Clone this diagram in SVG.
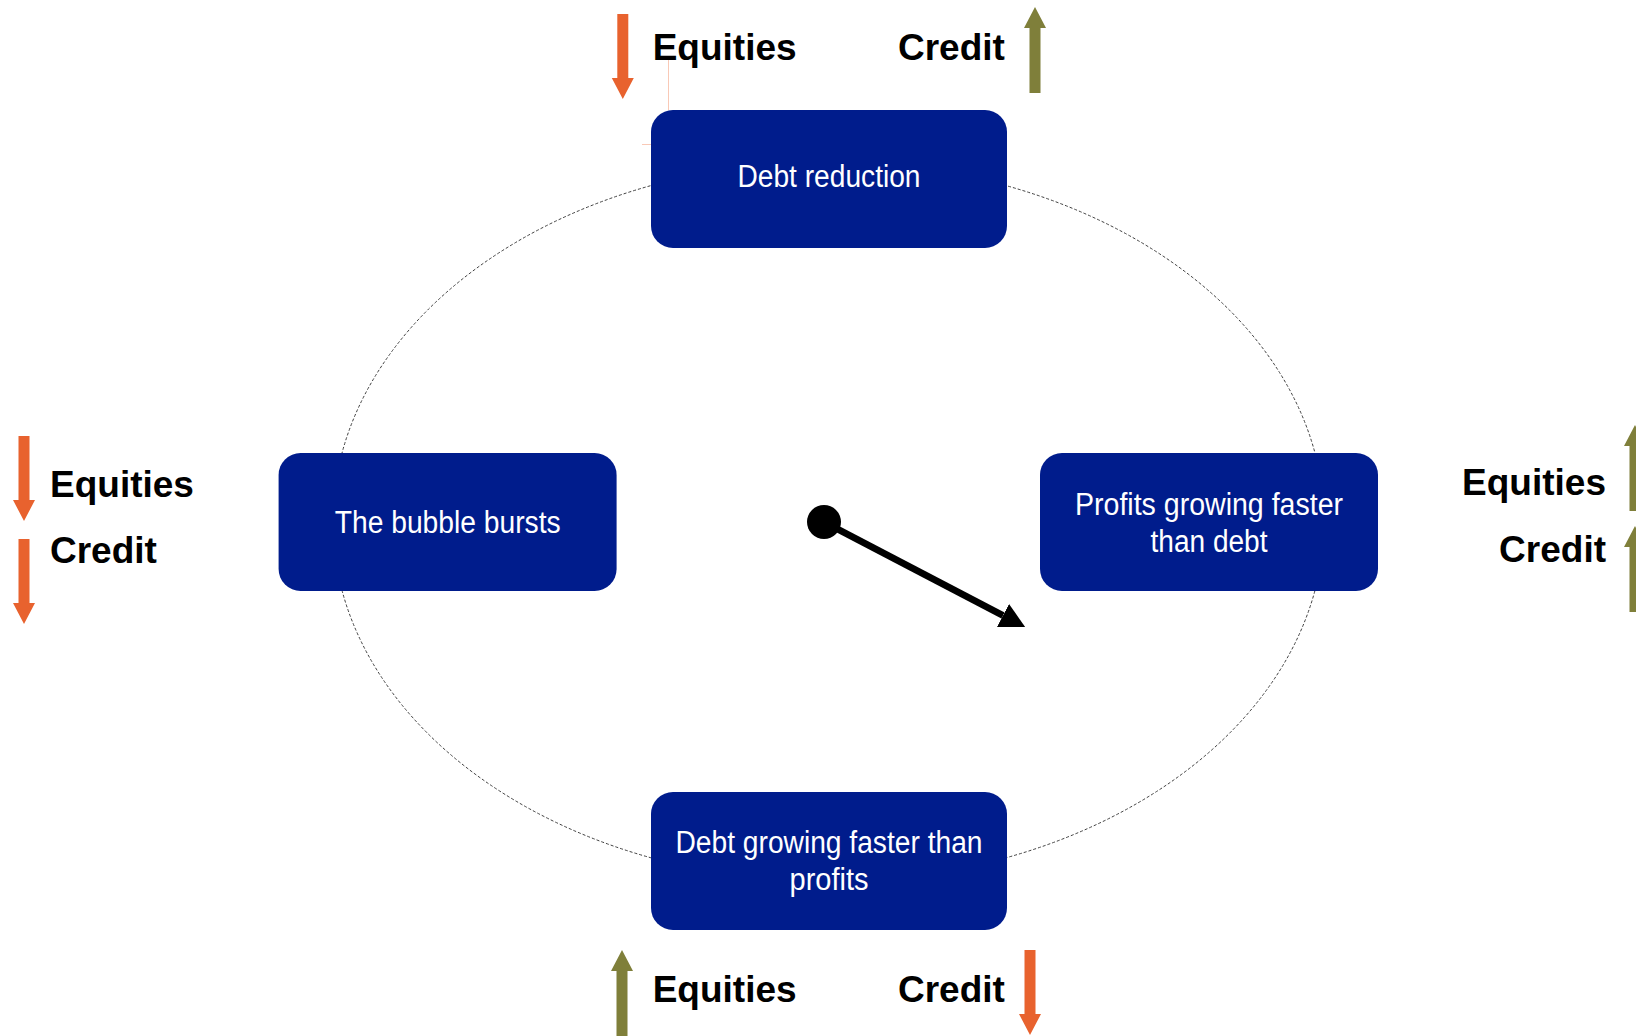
<svg xmlns="http://www.w3.org/2000/svg" xmlns:xlink="http://www.w3.org/1999/xlink" width="1636" height="1036" viewBox="0 0 1636 1036">
<style>
.node rect{fill:#001C8C;}
.ntext{font-family:"Liberation Sans",Arial,sans-serif;font-size:31px;fill:#ffffff;text-anchor:middle;}
.lbl{font-family:"Liberation Sans",Arial,sans-serif;font-size:37px;font-weight:bold;fill:#000000;}
.dn{fill:#E8622E;}
.upa{fill:#7F7F3A;}
.cycle{fill:none;stroke:#404040;stroke-width:1;stroke-dasharray:3 2;}
.faint{stroke:#F9C9B6;stroke-width:1;fill:none;}
</style>
<defs>
<path id="down" d="M-5.5,0 H5.5 V64 H11 L0,85 L-11,64 H-5.5 Z"/>
<path id="up" d="M-5.5,86 H5.5 V21 H11 L0,0 L-11,21 H-5.5 Z"/>
<marker id="head" markerUnits="userSpaceOnUse" markerWidth="26" markerHeight="28" refX="0" refY="13" orient="auto">
<path d="M0,0 L25,13 L0,26 Z" fill="#000000"/>
</marker>
</defs>
<rect width="1636" height="1036" fill="#ffffff"/>
<g id="connectors">
<ellipse class="cycle" cx="828.5" cy="521.7" rx="495.6" ry="360"/>
<line class="faint" x1="668.5" y1="60" x2="668.5" y2="110"/>
<line class="faint" x1="642" y1="144.5" x2="651" y2="144.5"/>
<circle cx="824" cy="522" r="17" fill="#000000"/>
<line x1="824" y1="522" x2="1003" y2="615.5" stroke="#000000" stroke-width="7" marker-end="url(#head)"/>
</g>
<g id="node-debt-reduction" class="node">
<rect x="651" y="110" width="356" height="138" rx="22"/>
<text class="ntext" x="829" y="187" textLength="183" lengthAdjust="spacingAndGlyphs">Debt reduction</text>
</g>
<g id="node-bubble-bursts" class="node">
<rect x="278.6" y="453" width="338" height="138" rx="22"/>
<text class="ntext" x="447.7" y="533" textLength="226" lengthAdjust="spacingAndGlyphs">The bubble bursts</text>
</g>
<g id="node-profits-growing" class="node">
<rect x="1040" y="453" width="338" height="138" rx="22"/>
<text class="ntext" x="1209" y="515" textLength="268" lengthAdjust="spacingAndGlyphs">Profits growing faster</text>
<text class="ntext" x="1209" y="552" textLength="117" lengthAdjust="spacingAndGlyphs">than debt</text>
</g>
<g id="node-debt-growing" class="node">
<rect x="651" y="792" width="356" height="138" rx="22"/>
<text class="ntext" x="829" y="853" textLength="307" lengthAdjust="spacingAndGlyphs">Debt growing faster than</text>
<text class="ntext" x="829" y="890" textLength="79" lengthAdjust="spacingAndGlyphs">profits</text>
</g>
<g id="top-labels">
<use xlink:href="#down" class="dn" x="622.8" y="14"/>
<text class="lbl" x="652.7" y="60">Equities</text>
<text class="lbl" x="898" y="60">Credit</text>
<use xlink:href="#up" class="upa" x="1035" y="7"/>
</g>
<g id="left-labels">
<use xlink:href="#down" class="dn" x="24" y="436"/>
<use xlink:href="#down" class="dn" x="24" y="539"/>
<text class="lbl" x="50" y="497">Equities</text>
<text class="lbl" x="50" y="563">Credit</text>
</g>
<g id="right-labels">
<text class="lbl" x="1606" y="495" text-anchor="end">Equities</text>
<text class="lbl" x="1606" y="562" text-anchor="end">Credit</text>
<use xlink:href="#up" class="upa" x="1635" y="425"/>
<use xlink:href="#up" class="upa" x="1635" y="526"/>
</g>
<g id="bottom-labels">
<use xlink:href="#up" class="upa" x="622" y="950"/>
<text class="lbl" x="652.7" y="1002">Equities</text>
<text class="lbl" x="898" y="1002">Credit</text>
<use xlink:href="#down" class="dn" x="1030" y="950"/>
</g>
</svg>
